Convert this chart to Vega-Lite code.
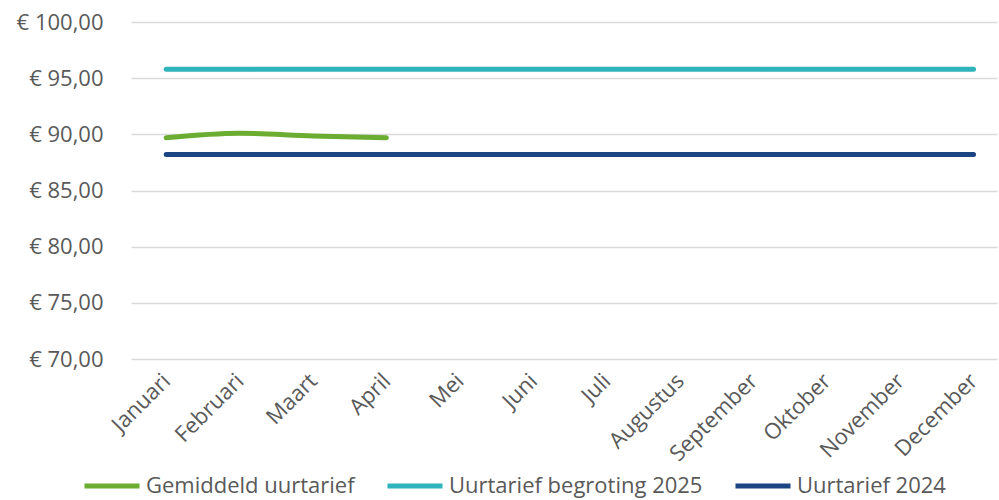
{
  "$schema": "https://vega.github.io/schema/vega-lite/v6.json",
  "autosize": {"type": "none"},
  "width": 866,
  "height": 337,
  "padding": {"left": 131, "top": 22, "right": 2, "bottom": 141},
  "background": "white",
  "config": {
    "font": "Open Sans",
    "view": {"stroke": null},
    "axis": {"labelColor": "#595959", "labelFontSize": 22, "labelFont": "Open Sans"},
    "legend": {"labelColor": "#595959", "labelFontSize": 22, "labelFont": "Open Sans"}
  },
  "data": {
    "values": [
      {"maand": "Januari", "reeks": "Gemiddeld uurtarief", "waarde": 89.7},
      {"maand": "Februari", "reeks": "Gemiddeld uurtarief", "waarde": 90.1},
      {"maand": "Maart", "reeks": "Gemiddeld uurtarief", "waarde": 89.85},
      {"maand": "April", "reeks": "Gemiddeld uurtarief", "waarde": 89.7},
      {"maand": "Januari", "reeks": "Uurtarief begroting 2025", "waarde": 95.8},
      {"maand": "Februari", "reeks": "Uurtarief begroting 2025", "waarde": 95.8},
      {"maand": "Maart", "reeks": "Uurtarief begroting 2025", "waarde": 95.8},
      {"maand": "April", "reeks": "Uurtarief begroting 2025", "waarde": 95.8},
      {"maand": "Mei", "reeks": "Uurtarief begroting 2025", "waarde": 95.8},
      {"maand": "Juni", "reeks": "Uurtarief begroting 2025", "waarde": 95.8},
      {"maand": "Juli", "reeks": "Uurtarief begroting 2025", "waarde": 95.8},
      {"maand": "Augustus", "reeks": "Uurtarief begroting 2025", "waarde": 95.8},
      {"maand": "September", "reeks": "Uurtarief begroting 2025", "waarde": 95.8},
      {"maand": "Oktober", "reeks": "Uurtarief begroting 2025", "waarde": 95.8},
      {"maand": "November", "reeks": "Uurtarief begroting 2025", "waarde": 95.8},
      {"maand": "December", "reeks": "Uurtarief begroting 2025", "waarde": 95.8},
      {"maand": "Januari", "reeks": "Uurtarief 2024", "waarde": 88.2},
      {"maand": "Februari", "reeks": "Uurtarief 2024", "waarde": 88.2},
      {"maand": "Maart", "reeks": "Uurtarief 2024", "waarde": 88.2},
      {"maand": "April", "reeks": "Uurtarief 2024", "waarde": 88.2},
      {"maand": "Mei", "reeks": "Uurtarief 2024", "waarde": 88.2},
      {"maand": "Juni", "reeks": "Uurtarief 2024", "waarde": 88.2},
      {"maand": "Juli", "reeks": "Uurtarief 2024", "waarde": 88.2},
      {"maand": "Augustus", "reeks": "Uurtarief 2024", "waarde": 88.2},
      {"maand": "September", "reeks": "Uurtarief 2024", "waarde": 88.2},
      {"maand": "Oktober", "reeks": "Uurtarief 2024", "waarde": 88.2},
      {"maand": "November", "reeks": "Uurtarief 2024", "waarde": 88.2},
      {"maand": "December", "reeks": "Uurtarief 2024", "waarde": 88.2}
    ]
  },
  "mark": {"type": "line", "strokeWidth": 5, "strokeCap": "round", "interpolate": "monotone"},
  "encoding": {
    "x": {
      "field": "maand",
      "type": "ordinal",
      "sort": ["Januari", "Februari", "Maart", "April", "Mei", "Juni", "Juli", "Augustus", "September", "Oktober", "November", "December"],
      "scale": {"type": "point", "padding": 0.4, "align": 0.6},
      "axis": {"title": null, "labelAngle": -45, "labelAlign": "right", "labelBaseline": "middle", "ticks": false, "domain": false, "labelPadding": 18, "grid": false, "labelLimit": 0}
    },
    "y": {
      "field": "waarde",
      "type": "quantitative",
      "scale": {"domain": [70, 100], "nice": false, "zero": false},
      "axis": {
        "title": null,
        "values": [70, 75, 80, 85, 90, 95, 100],
        "labelExpr": "'€ ' + replace(format(datum.value, '.2f'), '.', ',')",
        "ticks": false,
        "domain": false,
        "labelPadding": 28,
        "gridColor": "#d9d9d9",
        "gridWidth": 1.5
      }
    },
    "color": {
      "field": "reeks",
      "type": "nominal",
      "sort": ["Gemiddeld uurtarief", "Uurtarief begroting 2025", "Uurtarief 2024"],
      "scale": {
        "domain": ["Gemiddeld uurtarief", "Uurtarief begroting 2025", "Uurtarief 2024"],
        "range": ["#6aad30", "#30b4bc", "#1d4482"]
      },
      "legend": {
        "title": null,
        "orient": "none",
        "direction": "horizontal",
        "legendX": -49,
        "legendY": 434,
        "symbolType": "stroke",
        "symbolSize": 3025,
        "symbolStrokeWidth": 5,
        "symbolOffset": 0,
        "labelOffset": 4,
        "labelLimit": 0,
        "columnPadding": 22
      }
    }
  }
}
